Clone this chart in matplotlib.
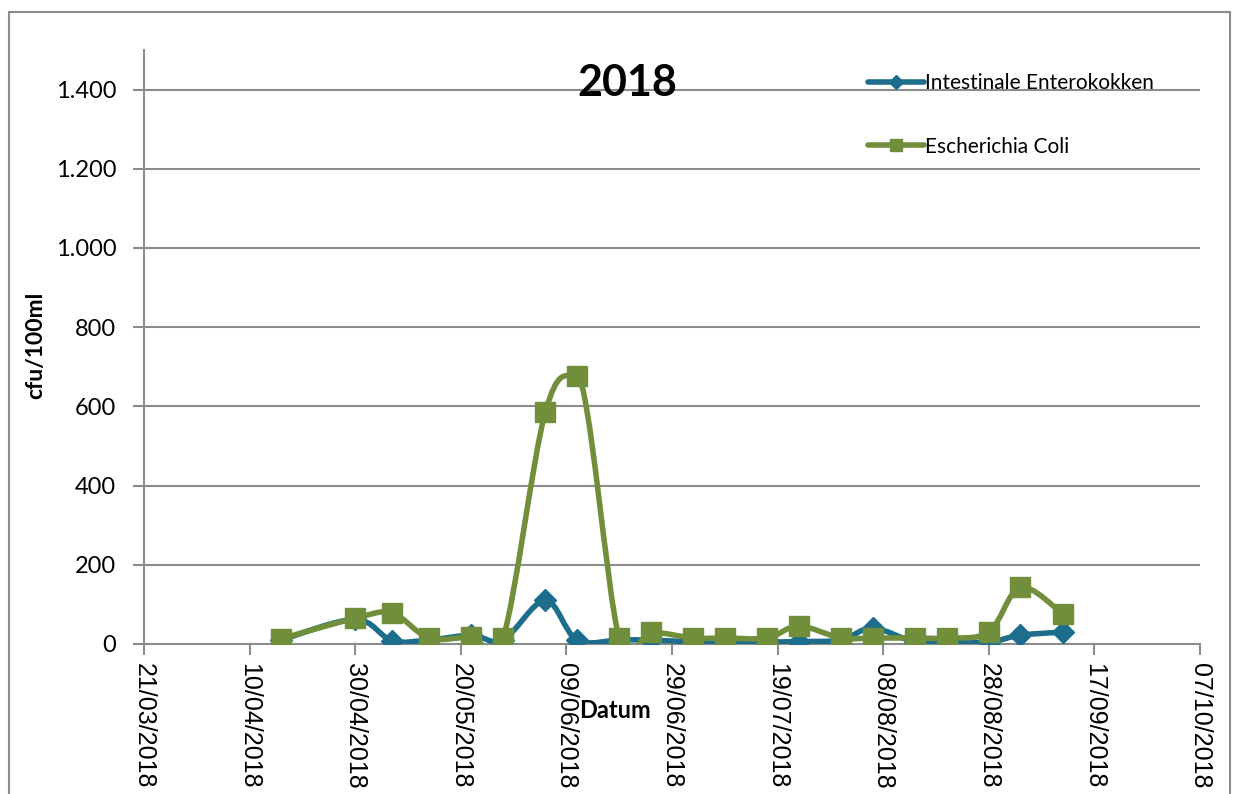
"""line chart of bathing water quality 2018"""
import datetime as dt
import matplotlib
matplotlib.use("Agg")
import matplotlib.pyplot as plt
import matplotlib.dates as mdates
from matplotlib.path import Path
from matplotlib.patches import PathPatch, Rectangle
from matplotlib.lines import Line2D
from matplotlib.ticker import FuncFormatter

plt.rcParams['font.family'] = ['Lato', 'DejaVu Sans']

sample_dates = ['2018-04-16', '2018-04-30', '2018-05-07', '2018-05-14', '2018-05-22',
                '2018-05-28', '2018-06-05', '2018-06-11', '2018-06-19', '2018-06-25',
                '2018-07-03', '2018-07-09', '2018-07-17', '2018-07-23', '2018-07-31',
                '2018-08-06', '2018-08-14', '2018-08-20', '2018-08-28', '2018-09-03',
                '2018-09-11']
enterokokken = [10, 62, 8, 10, 22, 10, 110, 10, 10, 10, 5, 5, 5, 6, 10,
                40, 5, 5, 5, 22, 30]
e_coli = [13, 65, 78, 15, 18, 15, 585, 677, 15, 30, 15, 15, 15, 45, 15,
          15, 15, 15, 30, 143, 76]
series_names = ['Intestinale Enterokokken', 'Escherichia Coli']
blue = '#1c6e8c'
green = '#718f3b'

x = [mdates.date2num(dt.datetime.strptime(d, '%Y-%m-%d')) for d in sample_dates]


def smooth_path(xs, ys):
    # excel style smoothed line: catmull-rom through bezier curves,
    # flat tangent at local peaks so the big spike does not overshoot
    n = len(xs)
    tx, ty = [], []
    for i in range(n):
        a = max(i - 1, 0)
        b = min(i + 1, n - 1)
        dx = (xs[b] - xs[a]) / 6
        dy = (ys[b] - ys[a]) / 6
        if 0 < i < n - 1 and (ys[i] - ys[a]) * (ys[b] - ys[i]) < 0 and ys[i] > 300:
            dy = 0
        tx.append(dx)
        ty.append(dy)
    verts = [(xs[0], ys[0])]
    codes = [Path.MOVETO]
    for i in range(n - 1):
        c1 = (xs[i] + tx[i], ys[i] + ty[i])
        c2 = (xs[i + 1] - tx[i + 1], ys[i + 1] - ty[i + 1])
        verts += [c1, c2, (xs[i + 1], ys[i + 1])]
        codes += [Path.CURVE4] * 3
    return Path(verts, codes)


fig = plt.figure(figsize=(12.38, 7.94), dpi=100)
ax = fig.add_axes([0.1163, 0.189, 0.8530, 0.748])

ax.add_patch(PathPatch(smooth_path(x, enterokokken), fill=False, edgecolor=blue,
                       lw=4.0, zorder=3, capstyle='round', joinstyle='round'))
ax.plot(x, enterokokken, ls='none', marker='D', ms=11.5, color=blue, zorder=4)
ax.add_patch(PathPatch(smooth_path(x, e_coli), fill=False, edgecolor=green,
                       lw=4.0, zorder=5, capstyle='round', joinstyle='round'))
ax.plot(x, e_coli, ls='none', marker='s', ms=14.5, color=green, zorder=6)

start = mdates.date2num(dt.datetime(2018, 3, 21))
ax.set_xlim(start, start + 200)
ax.set_ylim(0, 1500)
ax.set_xticks([start + 20 * k for k in range(11)])
ax.xaxis.set_major_formatter(mdates.DateFormatter('%d/%m/%Y'))
ax.set_yticks(range(0, 1401, 200))
ax.yaxis.set_major_formatter(FuncFormatter(lambda v, p: f'{int(v):,}'.replace(',', '.')))

for lbl in ax.get_xticklabels():
    lbl.set_rotation(270)
    lbl.set_family(['Liberation Sans'])
    lbl.set_fontsize(18)
    lbl.set_va('top')
    lbl.set_ha('center')
ax.tick_params(axis='y', labelsize=17, length=8, width=1.5, color='#8c8c8c', pad=12)
ax.tick_params(axis='x', length=8, width=1.5, color='#8c8c8c', pad=6)

ax.grid(axis='y', color='#8c8c8c', lw=1.5)
ax.set_axisbelow(True)
for side in ['top', 'right']:
    ax.spines[side].set_visible(False)
for side in ['left', 'bottom']:
    ax.spines[side].set_color('#8c8c8c')
    ax.spines[side].set_linewidth(1.5)

fig.text(0.507, 0.895, '2018', fontsize=31, fontweight='bold', ha='center', va='center')
fig.text(0.4965, 0.105, 'Datum', fontsize=17, fontweight='bold', ha='center', va='center')
fig.text(0.029, 0.565, 'cfu/100ml', fontsize=16.5, fontweight='bold', rotation=90,
         ha='center', va='center')

handles = [Line2D([], [], color=blue, lw=4.0, marker='D', ms=7, solid_capstyle='round'),
           Line2D([], [], color=green, lw=4.0, marker='s', ms=9, solid_capstyle='round')]
ax.legend(handles, series_names, loc='upper left', bbox_to_anchor=(0.668, 0.993),
          frameon=False, fontsize=15, handlelength=2.7, handletextpad=0.05,
          labelspacing=2.1, numpoints=1)

fig.add_artist(Rectangle((9 / 1238, -0.05), 1221 / 1238, 1.05 - 12 / 794, fill=False,
                         edgecolor='#8c8c8c', lw=1.5, transform=fig.transFigure))

fig.savefig('out.png', dpi=100)
